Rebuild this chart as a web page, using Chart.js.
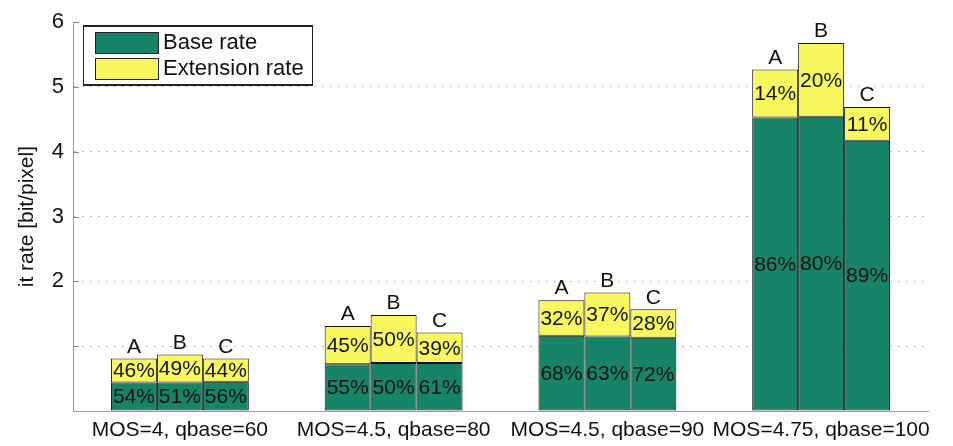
<!DOCTYPE html>
<html>
<head>
<meta charset="utf-8">
<script src="https://cdn.jsdelivr.net/npm/chart.js@4/dist/chart.umd.min.js"></script>
<style>
html, body { margin: 0; padding: 0; background: #fff; }
#wrap { width: 953px; height: 446px; }
</style>
</head>
<body>
<div id="wrap"><canvas id="rateChart" width="953" height="446"></canvas></div>
<script>
const categories = ['MOS=4, qbase=60', 'MOS=4.5, qbase=80', 'MOS=4.5, qbase=90', 'MOS=4.75, qbase=100'];
const schemes = ['A', 'B', 'C'];
const seriesNames = ['Base rate', 'Extension rate'];

// bit rate [bit/pixel]
const baseA = [0.44, 0.72, 1.16, 4.53];
const extA  = [0.37, 0.59, 0.55, 0.74];
const baseB = [0.44, 0.74, 1.15, 4.54];
const extB  = [0.43, 0.74, 0.68, 1.14];
const baseC = [0.45, 0.74, 1.13, 4.17];
const extC  = [0.36, 0.47, 0.44, 0.52];

// share labels printed inside the bars
const pctBaseA = ['54%', '55%', '68%', '86%'];
const pctExtA  = ['46%', '45%', '32%', '14%'];
const pctBaseB = ['51%', '50%', '63%', '80%'];
const pctExtB  = ['49%', '50%', '37%', '20%'];
const pctBaseC = ['56%', '61%', '72%', '89%'];
const pctExtC  = ['44%', '39%', '28%', '11%'];

const yTicks = [0, 1, 2, 3, 4, 5, 6];
const yTickLabels = ['', '', '2', '3', '4', '5', '6'];

const baseColor = '#178468';
const extColor = '#f8f85e';
const FONT = '"Liberation Sans", Arial, sans-serif';

function makeSet(kind, scheme, values, pct) {
    return {
        label: seriesNames[kind],
        data: values,
        pct: pct,
        scheme: scheme,
        kind: kind,
        stack: scheme,
        backgroundColor: kind === 0 ? baseColor : extColor,
        borderColor: '#111',
        borderWidth: 1,
        borderSkipped: false
    };
}

const datasets = [
    makeSet(0, 'A', baseA, pctBaseA), makeSet(1, 'A', extA, pctExtA),
    makeSet(0, 'B', baseB, pctBaseB), makeSet(1, 'B', extB, pctExtB),
    makeSet(0, 'C', baseC, pctBaseC), makeSet(1, 'C', extC, pctExtC)
];

const barText = {
    id: 'barText',
    afterDatasetsDraw(chart) {
        const ctx = chart.ctx;
        ctx.save();
        ctx.fillStyle = '#111';
        ctx.textAlign = 'center';
        chart.data.datasets.forEach((ds, i) => {
            const meta = chart.getDatasetMeta(i);
            meta.data.forEach((bar, j) => {
                ctx.font = '21px ' + FONT;
                ctx.textBaseline = 'middle';
                ctx.fillText(ds.pct[j], bar.x, (bar.y + bar.base) / 2 + 1);
                if (ds.kind === 1) {
                    ctx.font = '21px ' + FONT;
                    ctx.textBaseline = 'bottom';
                    ctx.fillText(ds.scheme, bar.x, bar.y - 1);
                }
            });
        });
        ctx.restore();
    }
};

const axisDecor = {
    id: 'axisDecor',
    afterDraw(chart) {
        const ctx = chart.ctx;
        const y = chart.scales.y;
        ctx.save();
        ctx.strokeStyle = '#8a8a8a';
        ctx.lineWidth = 1;
        yTicks.forEach(v => {
            if (v === 0) return;
            const py = Math.round(y.getPixelForValue(v)) + 0.5;
            ctx.beginPath();
            ctx.moveTo(y.right, py);
            ctx.lineTo(y.right + 6, py);
            ctx.stroke();
        });
        // legend box
        const lx = 83, ly = 25, lw = 229, lh = 60;
        ctx.fillStyle = '#fff';
        ctx.fillRect(lx, ly, lw, lh);
        ctx.strokeStyle = '#222';
        ctx.strokeRect(lx + 0.5, ly + 0.5, lw, lh);
        ctx.lineWidth = 2;
        ctx.beginPath();
        ctx.moveTo(lx, ly + 1);
        ctx.lineTo(lx + lw + 1, ly + 1);
        ctx.moveTo(lx, ly + lh);
        ctx.lineTo(lx + lw + 1, ly + lh);
        ctx.stroke();
        ctx.lineWidth = 1;
        const swatch = [baseColor, extColor];
        ctx.font = '22px ' + FONT;
        ctx.textAlign = 'left';
        ctx.textBaseline = 'middle';
        seriesNames.forEach((name, k) => {
            const sy = ly + 7 + k * 26;
            ctx.fillStyle = swatch[k];
            ctx.fillRect(95, sy, 63, 21);
            ctx.strokeStyle = '#222';
            ctx.strokeRect(95.5, sy + 0.5, 63, 21);
            ctx.fillStyle = '#111';
            ctx.fillText(name, 163, sy + 11);
        });
        ctx.restore();
    }
};

new Chart(document.getElementById('rateChart'), {
    type: 'bar',
    data: {
        labels: categories,
        datasets: datasets
    },
    options: {
        responsive: false,
        animation: false,
        layout: {
            padding: { top: 15, right: 25, bottom: 0, left: 0 }
        },
        datasets: {
            bar: {
                categoryPercentage: 0.645,
                barPercentage: 1.0
            }
        },
        plugins: {
            legend: { display: false },
            tooltip: { enabled: false }
        },
        scales: {
            x: {
                stacked: true,
                grid: { display: false, drawTicks: false },
                border: { display: true, color: '#a0a0a0', width: 1 },
                ticks: {
                    color: '#111',
                    padding: 7,
                    maxRotation: 0,
                    autoSkip: false,
                    font: { family: FONT, size: 21 }
                },
                afterFit(scale) { scale.height = 35; }
            },
            y: {
                stacked: true,
                min: 0,
                max: 6,
                afterBuildTicks(scale) {
                    scale.ticks = yTicks.map(v => ({ value: v }));
                },
                ticks: {
                    color: '#111',
                    padding: 9,
                    font: { family: FONT, size: 22 },
                    callback: function(value) {
                        return yTickLabels[yTicks.indexOf(value)];
                    }
                },
                grid: {
                    drawTicks: false,
                    color: c => (c.tick && c.tick.value > 0 && c.tick.value < 6) ? '#bdbdbd' : 'rgba(0,0,0,0)'
                },
                border: { display: true, color: '#9a9a9a', width: 1, dash: [2, 6] },
                title: {
                    display: true,
                    text: 'it rate [bit/pixel]',
                    color: '#111',
                    padding: { top: 15, bottom: 0 },
                    font: { family: FONT, size: 21 }
                },
                afterFit(scale) { scale.width = 73; }
            }
        }
    },
    plugins: [barText, axisDecor]
});
</script>
</body>
</html>
